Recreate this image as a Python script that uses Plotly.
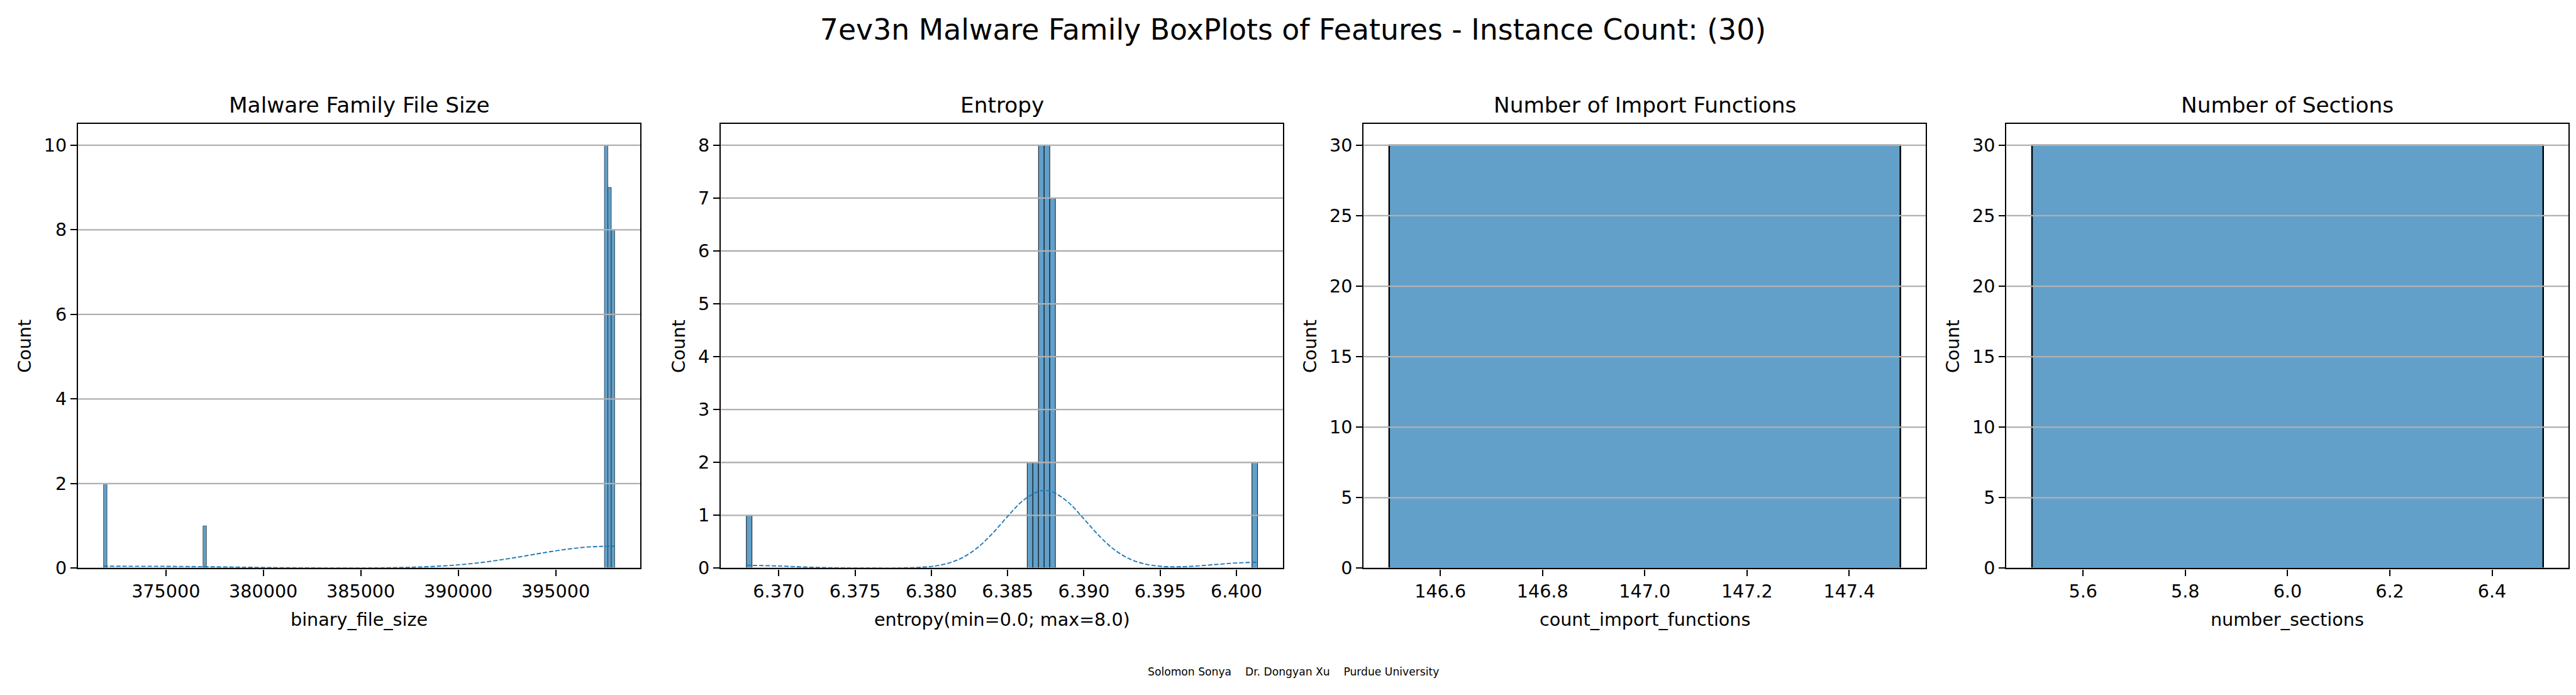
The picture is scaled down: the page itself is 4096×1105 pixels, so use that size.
import plotly.graph_objects as go

# ---------------- data ----------------
suptitle = "7ev3n Malware Family BoxPlots of Features - Instance Count: (30)"
footer = "Solomon Sonya    Dr. Dongyan Xu    Purdue University"

panel_titles = ["Malware Family File Size", "Entropy",
                "Number of Import Functions", "Number of Sections"]
x_labels = ["binary_file_size", "entropy(min=0.0; max=8.0)",
            "count_import_functions", "number_sections"]
y_label = "Count"

file_size_bin_centers = [371890, 376994, 397592, 397768, 397944]
file_size_counts = [2, 1, 10, 9, 8]
file_size_bin_width = 176
file_size_kde_x = [371802, 373000, 375000, 377000, 379000, 381000, 383000, 385000,
                   386500, 388000, 389500, 390500, 391500, 392500, 393500, 394500,
                   395500, 396500, 397300, 398032]
file_size_kde_y = [0.047, 0.046, 0.044, 0.036, 0.023, 0.011, 0.005, 0.004,
                   0.011, 0.028, 0.062, 0.100, 0.153, 0.220, 0.296, 0.374,
                   0.444, 0.495, 0.515, 0.520]
file_size_xticks = [375000, 380000, 385000, 390000, 395000]
file_size_xticklabels = ["375000", "380000", "385000", "390000", "395000"]
file_size_yticks = [0, 2, 4, 6, 8, 10]

entropy_bin_centers = [6.36806, 6.38647, 6.38684, 6.38721, 6.38758, 6.38795, 6.40120]
entropy_counts = [1, 2, 2, 8, 8, 7, 2]
entropy_bin_width = 0.000368
entropy_kde_x = [6.36788, 6.3700, 6.3720, 6.3740, 6.3760, 6.3780, 6.3800, 6.3810,
                 6.3820, 6.3830, 6.3840, 6.3850, 6.3860, 6.3870, 6.3875, 6.3880,
                 6.3890, 6.3900, 6.3910, 6.3920, 6.3930, 6.3940, 6.3950, 6.3960,
                 6.3970, 6.3980, 6.3990, 6.4000, 6.40138]
entropy_kde_y = [0.055, 0.042, 0.019, 0.006, 0.002, 0.004, 0.033, 0.086,
                 0.194, 0.382, 0.655, 0.979, 1.276, 1.449, 1.468, 1.436,
                 1.240, 0.933, 0.613, 0.350, 0.175, 0.080, 0.037, 0.027,
                 0.035, 0.054, 0.078, 0.099, 0.112]
entropy_xticks = [6.370, 6.375, 6.380, 6.385, 6.390, 6.395, 6.400]
entropy_xticklabels = ["6.370", "6.375", "6.380", "6.385", "6.390", "6.395", "6.400"]
entropy_yticks = [0, 1, 2, 3, 4, 5, 6, 7, 8]

imports_bin_centers = [147.0]
imports_counts = [30]
imports_bin_width = 1.0
imports_xticks = [146.6, 146.8, 147.0, 147.2, 147.4]
imports_xticklabels = ["146.6", "146.8", "147.0", "147.2", "147.4"]
imports_yticks = [0, 5, 10, 15, 20, 25, 30]

sections_bin_centers = [6.0]
sections_counts = [30]
sections_bin_width = 1.0
sections_xticks = [5.6, 5.8, 6.0, 6.2, 6.4]
sections_xticklabels = ["5.6", "5.8", "6.0", "6.2", "6.4"]
sections_yticks = [0, 5, 10, 15, 20, 25, 30]

# ---------------- styling / layout ----------------
W, H = 4096, 1105
REF_W, REF_H = 5967, 1610
S = W / REF_W                 # reference px -> output px
PT = 300 / 72 * S             # one point in output px
FONT = "DejaVu Sans"
BAR_FILL = "#62a0ca"
KDE_COLOR = "#1f77b4"
GRID_COLOR = "#b0b0b0"

panels = [
    dict(c=file_size_bin_centers, n=file_size_counts, w=file_size_bin_width,
         kx=file_size_kde_x, ky=file_size_kde_y, xt=file_size_xticks,
         xtl=file_size_xticklabels, yt=file_size_yticks, edge=0.6),
    dict(c=entropy_bin_centers, n=entropy_counts, w=entropy_bin_width,
         kx=entropy_kde_x, ky=entropy_kde_y, xt=entropy_xticks,
         xtl=entropy_xticklabels, yt=entropy_yticks, edge=0.9),
    dict(c=imports_bin_centers, n=imports_counts, w=imports_bin_width,
         kx=None, ky=None, xt=imports_xticks, xtl=imports_xticklabels,
         yt=imports_yticks, edge=2.4),
    dict(c=sections_bin_centers, n=sections_counts, w=sections_bin_width,
         kx=None, ky=None, xt=sections_xticks, xtl=sections_xticklabels,
         yt=sections_yticks, edge=2.4),
]

# axes positions measured on the reference (px)
ax_left_ref = [169, 1658, 3147, 4636]
ax_width_ref = 1302.5
ax_top_ref, ax_bottom_ref = 280, 1325
y_dom = [1 - ax_bottom_ref / REF_H, 1 - ax_top_ref / REF_H]

fig = go.Figure()
layout = dict(
    width=W, height=H,
    margin=dict(l=0, r=0, t=0, b=0),
    paper_bgcolor="white", plot_bgcolor="white",
    showlegend=False,
    font=dict(family=FONT, color="black"),
)
annotations = []

tick_font = dict(family=FONT, size=10 * PT, color="black")
lw = 0.8 * PT

for i, p in enumerate(panels):
    k = "" if i == 0 else str(i + 1)
    xa, ya = "x" + k, "y" + k
    lefts = [c - p["w"] / 2 for c in p["c"]]
    rights = [c + p["w"] / 2 for c in p["c"]]
    lo, hi = min(lefts), max(rights)
    span = hi - lo
    xr = [lo - 0.05 * span, hi + 0.05 * span]
    yr = [0, 1.05 * max(p["n"])]

    fig.add_trace(go.Bar(
        x=p["c"], y=p["n"], width=[p["w"]] * len(p["c"]),
        marker=dict(color=BAR_FILL, line=dict(color="black", width=p["edge"])),
        xaxis=xa, yaxis=ya, hoverinfo="x+y",
    ))
    # horizontal grid lines (above bars, like the reference)
    gx, gy = [], []
    for t in p["yt"]:
        gx += [xr[0], xr[1], None]
        gy += [t, t, None]
    fig.add_trace(go.Scatter(
        x=gx, y=gy, mode="lines", line=dict(color=GRID_COLOR, width=lw),
        xaxis=xa, yaxis=ya, hoverinfo="skip", cliponaxis=True,
    ))
    if p["kx"] is not None:
        fig.add_trace(go.Scatter(
            x=p["kx"], y=p["ky"], mode="lines",
            line=dict(color=KDE_COLOR, width=0.65 * PT, dash="7px,3px",
                      shape="spline", smoothing=1.0),
            xaxis=xa, yaxis=ya,
        ))

    x0 = ax_left_ref[i] / REF_W
    x1 = (ax_left_ref[i] + ax_width_ref) / REF_W
    common = dict(
        ticks="outside", ticklen=3.5 * PT, tickwidth=lw, tickcolor="black",
        showline=True, linecolor="black", linewidth=lw, mirror=True,
        showgrid=False, zeroline=False, tickfont=tick_font, fixedrange=True,
    )
    layout["xaxis" + k] = dict(domain=[x0, x1], anchor=ya, range=xr,
                               tickmode="array", tickvals=p["xt"],
                               ticktext=p["xtl"], **common)
    layout["yaxis" + k] = dict(domain=y_dom, anchor=xa, range=yr,
                               tickmode="array", tickvals=p["yt"],
                               ticktext=[str(t) for t in p["yt"]], **common)

    xc = (x0 + x1) / 2
    # subplot title: baseline 25 ref px above axes top
    base = (ax_top_ref - 25) * S
    annotations.append(dict(
        text=panel_titles[i], xref="paper", yref="paper", x=xc,
        y=1 - (base + 0.236 * 12 * PT + 1) / H, xanchor="center",
        yanchor="bottom", showarrow=False,
        font=dict(family=FONT, size=12 * PT, color="black")))
    # x label: bbox top 94.4 ref px below axes bottom
    top = (ax_bottom_ref + 94.4) * S
    annotations.append(dict(
        text=x_labels[i], xref="paper", yref="paper", x=xc,
        y=1 - (top - 1) / H, xanchor="center", yanchor="top",
        showarrow=False, font=dict(family=FONT, size=10 * PT, color="black")))
    # y label
    lab_w = max(len(str(t)) for t in p["yt"]) * 0.636 * 41.67
    ycx = ax_left_ref[i] - 29.2 - lab_w - 16.7 - 24.25
    annotations.append(dict(
        text=y_label, xref="paper", yref="paper", x=ycx / REF_W,
        y=(y_dom[0] + y_dom[1]) / 2, xanchor="center", yanchor="middle",
        textangle=-90, showarrow=False,
        font=dict(family=FONT, size=10 * PT, color="black")))

# footer
annotations.append(dict(
    text=footer, xref="paper", yref="paper", x=0.5,
    y=1 - (1575 * S - 0.928 * 6 * PT - 1) / H, xanchor="center", yanchor="top",
    showarrow=False, font=dict(family=FONT, size=6 * PT, color="black")))

layout["annotations"] = annotations
layout["title"] = dict(text=suptitle, x=0.5, xanchor="center",
                       xref="paper", yref="container",
                       y=1 - (80 * S - 0.7 * 16 * PT) / H, yanchor="top",
                       font=dict(family=FONT, size=16 * PT, color="black"))
fig.update_layout(**layout)
fig.write_html("out.html")
